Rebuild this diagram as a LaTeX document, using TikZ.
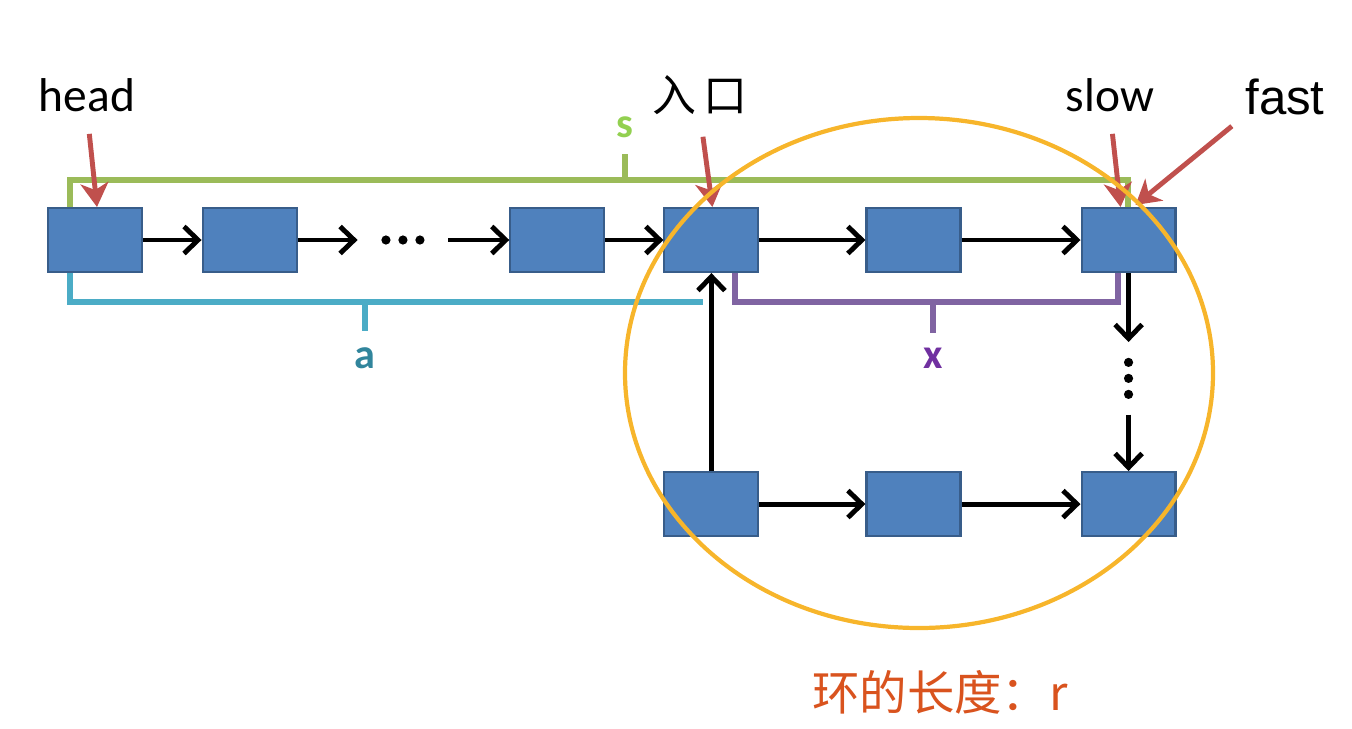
\documentclass[tikz,border=0pt]{standalone}
\usepackage{fontspec}
\setmainfont{Carlito}
\newfontfamily\arialfont{Liberation Sans}
\newfontfamily\cjk{Noto Sans CJK SC}
\usepackage{xcolor}
\usepackage{tikz}
\usetikzlibrary{arrows.meta,positioning,calc}

\definecolor{boxfill}{HTML}{4F81BD}
\definecolor{boxedge}{HTML}{385D8A}
\definecolor{sline}{HTML}{9BBB59}
\definecolor{stext}{HTML}{92D050}
\definecolor{aline}{HTML}{4BACC6}
\definecolor{atext}{HTML}{31859C}
\definecolor{xline}{HTML}{8064A2}
\definecolor{xtext}{HTML}{7030A0}
\definecolor{ptrred}{HTML}{C0504D}
\definecolor{ringorange}{HTML}{F7B52B}
\definecolor{captext}{HTML}{D9531E}

\begin{document}
\begin{tikzpicture}[
  x=0.02cm, y=-0.02cm,
  >={Straight Barb[length=2.8mm,width=5.4mm]},
  cell/.style={draw=boxedge, fill=boxfill, line width=1.2pt, minimum width=1.88cm, minimum height=1.28cm, inner sep=0pt},
  dotsbox/.style={minimum width=1.8cm, minimum height=0.4cm, inner sep=0pt},
  vdotsbox/.style={minimum width=0.4cm, minimum height=1.44cm, inner sep=0pt},
  link/.style={->, line width=2.8pt},
  ptr/.style={-{Stealth[length=4.8mm,width=5.6mm,inset=1.4mm]}, draw=ptrred, line width=2.8pt},
  brace/.style={line width=3.4pt},
  tag/.style={inner sep=0pt, font=\fontsize{27}{27}\selectfont},
  letter/.style={inner sep=0pt, font=\bfseries\fontsize{24}{24}\selectfont}
]
\useasboundingbox (0,0) rectangle (1352,728);

% list part
\node[cell] (n1) at (95,240) {};
\node[cell, right=1.17cm of n1] (n2) {};
\node[dotsbox, right=1.2cm of n2] (hdots) {};
\node[cell, right=1.22cm of hdots] (n3) {};
\node[cell, right=1.16cm of n3] (entry) {};
\node[cell, right=2.12cm of entry] (mid) {};
\node[cell, right=2.38cm of mid] (meet) {};
\node[vdotsbox, below=1.38cm of meet] (vdots) {};
% ring bottom row
\node[cell, below=3.96cm of entry] (b1) {};
\node[cell, below=3.96cm of mid] (b2) {};
\node[cell, below=3.96cm of meet] (b3) {};

\foreach \d in {-17,0,17} \fill ($(hdots)+(\d,0)$) circle (4.6);
\foreach \d in {-16,0,16} \fill ($(vdots)+(0,\d)$) circle (4.6);

\draw[link] (n1) -- (n2);
\draw[link] (n2) -- (hdots);
\draw[link] (hdots) -- (n3);
\draw[link] (n3) -- (entry);
\draw[link] (entry) -- (mid);
\draw[link] (mid) -- (meet);
\draw[link] (meet) -- (vdots);
\draw[link] (vdots) -- (b3);
\draw[link] (b1) -- (b2);
\draw[link] (b2) -- (b3);
\draw[link] (b1) -- (entry);

% brackets
\node[letter, text=stext] (s) at (625,127) {s};
\node[letter, text=atext] (a) at (365,358) {a};
\node[letter, text=xtext] (x) at (933,358) {x};
\draw[brace, sline] (70,207) |- (1128,180) -- (1128,207);
\draw[brace, sline] (625,180) -- (625,154);
\draw[brace, aline] (70,273) |- (703,302);
\draw[brace, aline] (365,302) -- (365,331);
\draw[brace, xline] (735,273) |- (933,302) -| (1118,273);
\draw[brace, xline] (933,302) -- (933,333);

% pointers
\node[tag] (head) at (87,95) {head};
\node[tag, font=\cjk\fontsize{25}{25}\selectfont] (door) at (700,95) {入\,口};
\node[tag] (slow) at (1110,95) {slow};
\node[tag, font=\arialfont\fontsize{28}{28}\selectfont] (fast) at (1285,97) {fast};
\draw[ptr, shorten <=4.4mm] (head.south) -- ([xshift=0.4mm]n1.north);
\draw[ptr, shorten <=4.4mm] (door.south) -- ([xshift=0.2mm]entry.north);
\draw[ptr, shorten <=4.4mm] (slow.south) -- ([xshift=-1.6mm]meet.north);
\draw[ptr, shorten <=3.4mm] (fast.south west) -- ([xshift=1.4mm,yshift=0.4mm]meet.north);

% ring
\draw[ringorange, line width=2.4pt] (919,373) ellipse [x radius=294, y radius=255];
\node[inner sep=0pt, text=captext, font=\cjk\fontsize{27}{27}\selectfont] (cap) at (940,692) {环的长度：r};
\end{tikzpicture}
\end{document}
